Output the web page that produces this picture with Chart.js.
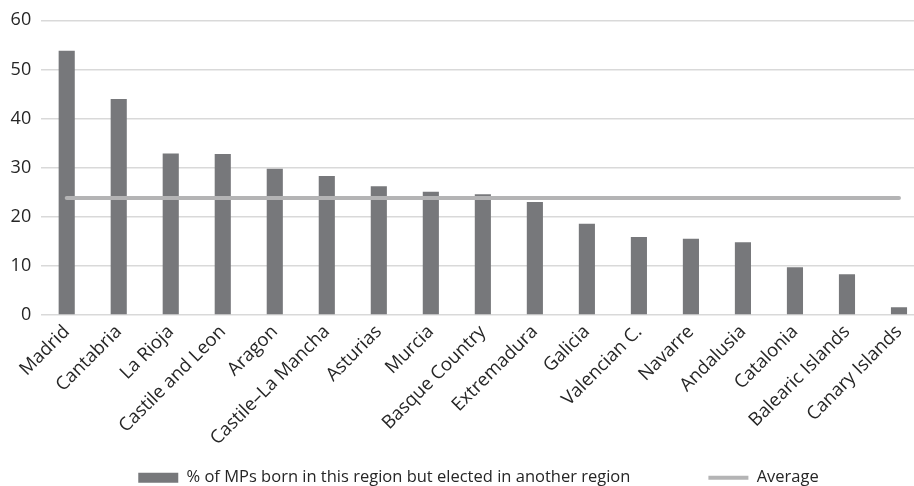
<!DOCTYPE html>
<html>
<head>
<meta charset="utf-8">
<script src="https://cdn.jsdelivr.net/npm/chart.js@4"></script>
<style>
html,body{margin:0;padding:0;background:#fff;overflow:hidden;}
#wrap{width:925px;height:486px;position:relative;}
</style>
</head>
<body>
<div id="wrap"><canvas id="c"></canvas></div>
<script>
const categories = ["Madrid","Cantabria","La Rioja","Castile and Leon","Aragon","Castile–La Mancha","Asturias","Murcia","Basque Country","Extremadura","Galicia","Valencian C.","Navarre","Andalusia","Catalonia","Balearic Islands","Canary Islands"];
const shareValues = [53.8,44.0,32.9,32.8,29.8,28.3,26.2,25.1,24.6,23.0,18.6,15.9,15.5,14.8,9.7,8.3,1.6];
const averageValues = [23.8,23.8,23.8,23.8,23.8,23.8,23.8,23.8,23.8,23.8,23.8,23.8,23.8,23.8,23.8,23.8,23.8];
const yTicks = [0,10,20,30,40,50,60];
const seriesNames = ["% of MPs born in this region but elected in another region","Average"];

const font = "'Open Sans', 'Liberation Sans', sans-serif";
Chart.defaults.font.family = font;
Chart.defaults.color = "#303030";

const noLabelClip = () => undefined;

new Chart(document.getElementById('c'), {
  type: 'bar',
  data: {
    labels: categories,
    datasets: [
      {
        type: 'bar',
        label: seriesNames[0],
        data: shareValues,
        backgroundColor: '#77787b',
        borderWidth: 0,
        barPercentage: 0.31,
        categoryPercentage: 1,
        pointStyle: 'rect',
        order: 2
      },
      {
        type: 'line',
        label: seriesNames[1],
        data: averageValues,
        borderColor: '#b4b4b5',
        backgroundColor: '#b4b4b5',
        borderWidth: 4,
        borderCapStyle: 'round',
        pointRadius: 0,
        pointHoverRadius: 0,
        pointStyle: 'line',
        pointBorderColor: '#b4b4b5',
        pointBorderWidth: 4,
        fill: false,
        order: 1
      }
    ]
  },
  options: {
    responsive: true,
    maintainAspectRatio: false,
    animation: false,
    devicePixelRatio: 1,
    layout: { padding: { left: 32, right: 0, top: 6, bottom: -10 } },
    plugins: {
      tooltip: { enabled: false },
      legend: {
        position: 'bottom',
        labels: {
          sort: (a, b) => a.datasetIndex - b.datasetIndex,
          usePointStyle: true,
          pointStyleWidth: 40,
          boxHeight: 10,
          padding: 78,
          color: '#262626',
          font: { size: 16.5, family: font }
        }
      }
    },
    scales: {
      x: {
        grid: { display: false, drawTicks: false },
        border: { display: false },
        ticks: {
          minRotation: 45, maxRotation: 45, autoSkip: false,
          padding: 6,
          color: '#262626',
          font: { size: 18.5, family: font }
        },
        afterFit: (axis) => {
          axis.paddingLeft = 0; axis.paddingRight = 0; axis.height = 76.5;
          axis._computeLabelArea = noLabelClip;
        }
      },
      y: {
        min: 0, max: 60,
        afterBuildTicks: (axis) => { axis.ticks = yTicks.map(v => ({ value: v })); },
        grid: { color: '#d9d9d9', lineWidth: 1.5, drawTicks: false },
        border: { display: false },
        ticks: {
          padding: 9.5,
          color: '#262626',
          font: { size: 18, family: font }
        },
        afterFit: (axis) => {
          axis.width = 8.7;
          axis._computeLabelArea = noLabelClip;
        }
      }
    }
  }
});
</script>
</body>
</html>
